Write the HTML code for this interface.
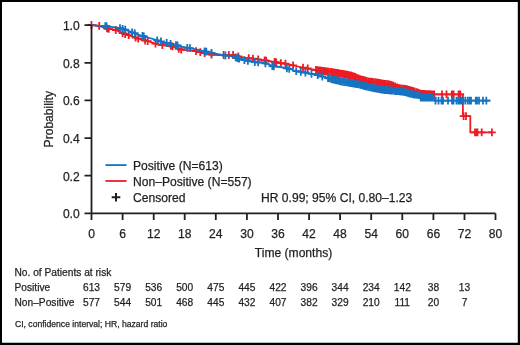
<!DOCTYPE html>
<html><head><meta charset="utf-8"><style>
html,body{margin:0;padding:0;background:#fff;}
#f{position:relative;width:520px;height:345px;overflow:hidden;background:#fff;}
#f svg{position:absolute;left:0;top:0;filter:blur(0.45px);}
text{font-family:"Liberation Sans",sans-serif;fill:#231f20;stroke:#231f20;stroke-width:0.25px;}
.t12{font-size:12.1px;}
.t10{font-size:10.2px;}
.t8{font-size:8.6px;}
</style></head><body><div id="f">
<svg width="520" height="345" viewBox="0 0 520 345">
<polyline points="91.5,25.0 99.2,25.8 106.2,28.3 115.4,29.9 124.6,33.8 132.7,36.6 140.4,39.4 148.1,41.2 155.8,43.8 159.6,45.0 171.5,45.8 179.2,49.1 183.1,49.8 194.6,51.0 198.5,51.6 202.7,52.8 210.4,54.6 218.1,55.0 233.5,55.0 237.7,56.4 245.4,57.9 253.1,58.6 260.8,59.8 268.5,61.0 272.7,61.7 280.4,63.0 288.1,64.1 295.8,66.0 303.5,67.8 317.0,70.2 330.0,71.8 340.0,73.4 351.5,75.6 360.0,79.0 367.7,81.3 375.4,82.2 383.0,83.7 390.8,84.5 398.5,88.1 406.0,89.1 413.8,91.2 421.5,93.9 435.0,94.4 462.9,94.4 462.9,116.2 470.3,116.2 470.3,132.3 491.9,132.3" fill="none" stroke="#ed1c24" stroke-width="1.8" stroke-linejoin="miter"/><path d="M91.5 21.1V28.9M87.6 25.0H95.4M99.2 21.9V29.7M95.3 25.8H103.1M107.0 24.5V32.3M103.1 28.4H110.9M108.8 24.9V32.7M104.9 28.8H112.7M115.7 26.1V33.9M111.8 30.0H119.6M122.6 29.1V36.9M118.7 33.0H126.5M125.2 30.1V37.9M121.3 34.0H129.1M128.7 31.3V39.1M124.8 35.2H132.6M135.6 33.8V41.6M131.7 37.7H139.5M138.2 34.7V42.5M134.3 38.6H142.1M145.1 36.6V44.4M141.2 40.5H149.0M147.7 37.2V45.0M143.8 41.1H151.6M155.5 39.8V47.6M151.6 43.7H159.4M162.4 41.3V49.1M158.5 45.2H166.3M170.9 41.9V49.7M167.0 45.8H174.8M172.6 42.4V50.2M168.7 46.3H176.5M178.7 45.0V52.8M174.8 48.9H182.6M181.2 45.6V53.4M177.3 49.5H185.1M196.0 47.3V55.1M192.1 51.2H199.9M200.3 48.2V56.0M196.4 52.1H204.2M204.6 49.3V57.1M200.7 53.2H208.5M211.5 50.8V58.6M207.6 54.7H215.4M223.6 51.1V58.9M219.7 55.0H227.5M228.8 51.1V58.9M224.9 55.0H232.7M233.1 51.1V58.9M229.2 55.0H237.0M238.3 52.6V60.4M234.4 56.5H242.2M248.7 54.3V62.1M244.8 58.2H252.6M253.0 54.7V62.5M249.1 58.6H256.9M258.2 55.5V63.3M254.3 59.4H262.1M264.6 56.5V64.3M260.7 60.4H268.5M266.2 56.7V64.5M262.3 60.6H270.1M274.6 58.1V65.9M270.7 62.0H278.5M276.2 58.4V66.2M272.3 62.3H280.1M280.8 59.2V67.0M276.9 63.1H284.7M285.4 59.8V67.6M281.5 63.7H289.3M293.1 61.4V69.2M289.2 65.3H297.0M303.0 63.8V71.6M299.1 67.7H306.9M307.7 64.6V72.4M303.8 68.5H311.6M316.0 66.1V73.9M312.1 70.0H319.9M317.1 66.3V74.1M313.2 70.2H321.0M318.6 66.5V74.3M314.7 70.4H322.5M319.8 66.6V74.4M315.9 70.5H323.7M321.3 66.8V74.6M317.4 70.7H325.2M322.9 67.0V74.8M319.0 70.9H326.8M323.8 67.1V74.9M319.9 71.0H327.7M324.6 67.2V75.0M320.7 71.1H328.5M326.4 67.5V75.3M322.5 71.4H330.3M327.5 67.6V75.4M323.6 71.5H331.4M328.6 67.7V75.5M324.7 71.6H332.5M330.6 68.0V75.8M326.7 71.9H334.5M332.0 68.2V76.0M328.1 72.1H335.9M333.7 68.5V76.3M329.8 72.4H337.6M335.1 68.7V76.5M331.2 72.6H339.0M336.7 69.0V76.8M332.8 72.9H340.6M337.7 69.1V76.9M333.8 73.0H341.6M339.2 69.4V77.2M335.3 73.3H343.1M341.0 69.7V77.5M337.1 73.6H344.9M342.5 70.0V77.8M338.6 73.9H346.4M344.1 70.3V78.1M340.2 74.2H348.0M345.7 70.6V78.4M341.8 74.5H349.6M346.6 70.8V78.6M342.7 74.7H350.5M348.3 71.1V78.9M344.4 75.0H352.2M349.8 71.4V79.2M345.9 75.3H353.7M351.0 71.6V79.4M347.1 75.5H354.9M351.9 71.9V79.7M348.0 75.8H355.8M353.7 72.6V80.4M349.8 76.5H357.6M355.1 73.1V80.9M351.2 77.0H359.0M356.7 73.8V81.6M352.8 77.7H360.6M358.5 74.5V82.3M354.6 78.4H362.4M360.2 75.2V83.0M356.3 79.1H364.1M362.0 75.7V83.5M358.1 79.6H365.9M363.3 76.1V83.9M359.4 80.0H367.2M365.1 76.6V84.4M361.2 80.5H369.0M366.4 77.0V84.8M362.5 80.9H370.3M368.3 77.5V85.3M364.4 81.4H372.2M370.1 77.7V85.5M366.2 81.6H374.0M371.1 77.8V85.6M367.2 81.7H375.0M372.1 77.9V85.7M368.2 81.8H376.0M373.1 78.0V85.8M369.2 81.9H377.0M375.1 78.3V86.1M371.2 82.2H379.0M376.4 78.5V86.3M372.5 82.4H380.3M377.9 78.8V86.6M374.0 82.7H381.8M379.1 79.0V86.8M375.2 82.9H383.0M380.5 79.3V87.1M376.6 83.2H384.4M381.8 79.6V87.4M377.9 83.5H385.7M383.0 79.8V87.6M379.1 83.7H386.9M384.5 80.0V87.8M380.6 83.9H388.4M386.0 80.1V87.9M382.1 84.0H389.9M387.9 80.3V88.1M384.0 84.2H391.8M389.5 80.5V88.3M385.6 84.4H393.4M391.4 80.9V88.7M387.5 84.8H395.3M393.2 81.7V89.5M389.3 85.6H397.1M395.1 82.6V90.4M391.2 86.5H399.0M396.7 83.4V91.2M392.8 87.3H400.6M397.7 83.8V91.6M393.8 87.7H401.6M399.5 84.3V92.1M395.6 88.2H403.4M401.4 84.6V92.4M397.5 88.5H405.3M403.3 84.8V92.6M399.4 88.7H407.2M404.8 85.0V92.8M400.9 88.9H408.7M406.4 85.3V93.1M402.5 89.2H410.3M407.5 85.6V93.4M403.6 89.5H411.4M409.3 86.1V93.9M405.4 90.0H413.2M410.7 86.5V94.3M406.8 90.4H414.6M411.9 86.8V94.6M408.0 90.7H415.8M412.8 87.0V94.8M408.9 90.9H416.7M414.6 87.6V95.4M410.7 91.5H418.5M416.6 88.3V96.1M412.7 92.2H420.5M417.5 88.6V96.4M413.6 92.5H421.4M419.2 89.2V97.0M415.3 93.1H423.1M420.5 89.7V97.5M416.6 93.6H424.4M421.5 90.0V97.8M417.6 93.9H425.4M422.7 90.0V97.8M418.8 93.9H426.6M424.4 90.1V97.9M420.5 94.0H428.3M426.2 90.2V98.0M422.3 94.1H430.1M427.1 90.2V98.0M423.2 94.1H431.0M428.6 90.3V98.1M424.7 94.2H432.5M429.5 90.3V98.1M425.6 94.2H433.4M431.2 90.4V98.2M427.3 94.3H435.1M432.4 90.4V98.2M428.5 94.3H436.3M434.2 90.5V98.3M430.3 94.4H438.1M442.0 90.5V98.3M438.1 94.4H445.9M446.5 90.5V98.3M442.6 94.4H450.4M451.8 90.5V98.3M447.9 94.4H455.7M453.6 90.5V98.3M449.7 94.4H457.5M458.6 90.5V98.3M454.7 94.4H462.5M460.3 90.5V98.3M456.4 94.4H464.2M463.6 112.3V120.1M459.7 116.2H467.5M466.0 112.3V120.1M462.1 116.2H469.9M475.0 128.4V136.2M471.1 132.3H478.9M476.3 128.4V136.2M472.4 132.3H480.2M477.5 128.4V136.2M473.6 132.3H481.4M481.7 128.4V136.2M477.8 132.3H485.6M491.9 128.4V136.2M488.0 132.3H495.8" stroke="#ed1c24" stroke-width="1.8" fill="none"/><polyline points="91.5,25.0 97.7,25.6 105.4,26.1 113.1,27.1 120.8,28.2 128.5,30.8 132.7,32.5 140.4,35.3 148.1,37.5 155.8,39.9 163.5,42.2 167.7,43.2 175.4,44.9 183.1,47.0 190.8,48.4 198.5,49.9 202.7,50.8 210.4,52.7 218.1,54.2 225.8,55.6 233.5,56.4 237.7,58.3 245.4,60.4 253.1,62.0 260.8,62.5 268.5,64.0 272.7,66.3 280.4,67.0 288.1,68.5 295.8,71.0 303.5,72.4 315.0,74.5 330.0,78.6 340.0,81.2 350.0,82.9 360.0,84.7 367.7,86.8 375.4,88.4 383.0,89.8 390.8,90.5 398.5,91.2 406.0,92.2 409.0,93.3 413.8,94.5 419.5,95.0 420.0,97.6 434.5,97.6 435.0,100.7 490.4,100.7" fill="none" stroke="#1573c1" stroke-width="1.8" stroke-linejoin="miter"/><path d="M105.3 22.2V30.0M101.4 26.1H109.2M106.5 22.3V30.1M102.6 26.2H110.4M120.0 24.2V32.0M116.1 28.1H123.9M122.6 24.9V32.7M118.7 28.8H126.5M125.2 25.8V33.6M121.3 29.7H129.1M132.1 28.4V36.2M128.2 32.3H136.0M134.7 29.3V37.1M130.8 33.2H138.6M142.5 32.0V39.8M138.6 35.9H146.4M143.8 32.4V40.2M139.9 36.3H147.7M157.2 36.4V44.2M153.3 40.3H161.1M161.0 37.6V45.4M157.1 41.5H164.9M166.7 39.1V46.9M162.8 43.0H170.6M170.5 39.9V47.7M166.6 43.8H174.4M176.0 41.2V49.0M172.1 45.1H179.9M177.5 41.6V49.4M173.6 45.5H181.4M187.3 43.9V51.7M183.4 47.8H191.2M189.9 44.3V52.1M186.0 48.2H193.8M204.6 47.4V55.2M200.7 51.3H208.5M206.3 47.8V55.6M202.4 51.7H210.2M211.5 49.0V56.8M207.6 52.9H215.4M225.4 51.6V59.4M221.5 55.5H229.3M235.7 53.5V61.3M231.8 57.4H239.6M237.5 54.3V62.1M233.6 58.2H241.4M239.2 54.8V62.6M235.3 58.7H243.1M244.4 56.2V64.0M240.5 60.1H248.3M247.9 57.0V64.8M244.0 60.9H251.8M254.8 58.2V66.0M250.9 62.1H258.7M258.2 58.4V66.2M254.3 62.3H262.1M265.4 59.5V67.3M261.5 63.4H269.3M272.3 62.2V70.0M268.4 66.1H276.2M273.8 62.5V70.3M269.9 66.4H277.7M286.9 64.4V72.2M283.0 68.3H290.8M289.2 65.0V72.8M285.3 68.9H293.1M296.2 67.2V75.0M292.3 71.1H300.1M300.8 68.0V75.8M296.9 71.9H304.7M305.4 68.8V76.6M301.5 72.7H309.3M311.5 70.0V77.8M307.6 73.9H315.4M317.7 71.3V79.1M313.8 75.2H321.6M322.3 72.6V80.4M318.4 76.5H326.2M328.0 74.2V82.0M324.1 78.1H331.9M329.4 74.5V82.3M325.5 78.4H333.3M331.4 75.1V82.9M327.5 79.0H335.3M332.6 75.4V83.2M328.7 79.3H336.5M333.5 75.6V83.4M329.6 79.5H337.4M335.0 76.0V83.8M331.1 79.9H338.9M335.9 76.2V84.0M332.0 80.1H339.8M336.9 76.5V84.3M333.0 80.4H340.8M338.2 76.8V84.6M334.3 80.7H342.1M339.7 77.2V85.0M335.8 81.1H343.6M340.8 77.4V85.2M336.9 81.3H344.7M341.6 77.6V85.4M337.7 81.5H345.5M343.5 77.9V85.7M339.6 81.8H347.4M344.7 78.1V85.9M340.8 82.0H348.6M346.6 78.4V86.2M342.7 82.3H350.5M348.4 78.7V86.5M344.5 82.6H352.3M349.7 78.9V86.7M345.8 82.8H353.6M351.0 79.2V87.0M347.1 83.1H354.9M352.5 79.4V87.2M348.6 83.3H356.4M354.0 79.7V87.5M350.1 83.6H357.9M355.5 80.0V87.8M351.6 83.9H359.4M357.0 80.3V88.1M353.1 84.2H360.9M358.5 80.5V88.3M354.6 84.4H362.4M360.4 80.9V88.7M356.5 84.8H364.3M361.8 81.3V89.1M357.9 85.2H365.7M363.1 81.7V89.5M359.2 85.6H367.0M364.8 82.1V89.9M360.9 86.0H368.7M365.9 82.4V90.2M362.0 86.3H369.8M367.1 82.7V90.5M363.2 86.6H371.0M369.0 83.2V91.0M365.1 87.1H372.9M370.4 83.5V91.3M366.5 87.4H374.3M371.9 83.8V91.6M368.0 87.7H375.8M372.7 83.9V91.7M368.8 87.8H376.6M374.0 84.2V92.0M370.1 88.1H377.9M375.5 84.5V92.3M371.6 88.4H379.4M376.4 84.7V92.5M372.5 88.6H380.3M377.9 85.0V92.8M374.0 88.9H381.8M379.5 85.3V93.1M375.6 89.2H383.4M380.4 85.4V93.2M376.5 89.3H384.3M381.9 85.7V93.5M378.0 89.6H385.8M383.3 85.9V93.7M379.4 89.8H387.2M384.9 86.1V93.9M381.0 90.0H388.8M386.1 86.2V94.0M382.2 90.1H390.0M387.8 86.3V94.1M383.9 90.2H391.7M389.4 86.5V94.3M385.5 90.4H393.3M390.3 86.6V94.4M386.4 90.5H394.2M391.2 86.6V94.4M387.3 90.5H395.1M392.8 86.8V94.6M388.9 90.7H396.7M394.7 87.0V94.8M390.8 90.9H398.6M395.8 87.1V94.9M391.9 91.0H399.7M397.2 87.2V95.0M393.3 91.1H401.1M398.7 87.3V95.1M394.8 91.2H402.6M399.9 87.5V95.3M396.0 91.4H403.8M401.1 87.7V95.5M397.2 91.6H405.0M402.3 87.8V95.6M398.4 91.7H406.2M403.6 88.0V95.8M399.7 91.9H407.5M405.1 88.2V96.0M401.2 92.1H409.0M406.3 88.4V96.2M402.4 92.3H410.2M407.5 88.9V96.7M403.6 92.8H411.4M409.2 89.5V97.3M405.3 93.4H413.1M410.1 89.7V97.5M406.2 93.6H414.0M411.6 90.0V97.8M407.7 93.9H415.5M413.2 90.5V98.3M409.3 94.4H417.1M414.4 90.7V98.5M410.5 94.6H418.3M415.5 90.8V98.6M411.6 94.7H419.4M417.3 90.9V98.7M413.4 94.8H421.2M418.4 91.0V98.8M414.5 94.9H422.3M419.4 91.1V98.9M415.5 95.0H423.3M420.7 93.7V101.5M416.8 97.6H424.6M422.4 93.7V101.5M418.5 97.6H426.3M423.3 93.7V101.5M419.4 97.6H427.2M424.5 93.7V101.5M420.6 97.6H428.4M425.7 93.7V101.5M421.8 97.6H429.6M427.5 93.7V101.5M423.6 97.6H431.4M428.8 93.7V101.5M424.9 97.6H432.7M430.6 93.7V101.5M426.7 97.6H434.5M431.7 93.7V101.5M427.8 97.6H435.6M432.9 93.7V101.5M429.0 97.6H436.8M435.5 96.8V104.6M431.6 100.7H439.4M438.5 96.8V104.6M434.6 100.7H442.4M441.5 96.8V104.6M437.6 100.7H445.4M443.0 96.8V104.6M439.1 100.7H446.9M448.0 96.8V104.6M444.1 100.7H451.9M452.0 96.8V104.6M448.1 100.7H455.9M453.5 96.8V104.6M449.6 100.7H457.4M456.5 96.8V104.6M452.6 100.7H460.4M458.5 96.8V104.6M454.6 100.7H462.4M460.0 96.8V104.6M456.1 100.7H463.9M461.5 96.8V104.6M457.6 100.7H465.4M463.0 96.8V104.6M459.1 100.7H466.9M465.3 96.8V104.6M461.4 100.7H469.2M467.8 96.8V104.6M463.9 100.7H471.7M469.8 96.8V104.6M465.9 100.7H473.7M471.0 96.8V104.6M467.1 100.7H474.9M475.8 96.8V104.6M471.9 100.7H479.7M477.0 96.8V104.6M473.1 100.7H480.9M479.0 96.8V104.6M475.1 100.7H482.9M483.0 96.8V104.6M479.1 100.7H486.9M486.3 96.8V104.6M482.4 100.7H490.2" stroke="#1573c1" stroke-width="1.8" fill="none"/>
<path d="M91.5 25.1V219.9M84.5 213.4H495.5" stroke="#231f20" stroke-width="1.8" fill="none"/><path d="M122.6 213.4v6.5M153.7 213.4v6.5M184.7 213.4v6.5M215.8 213.4v6.5M246.9 213.4v6.5M278.0 213.4v6.5M309.1 213.4v6.5M340.1 213.4v6.5M371.2 213.4v6.5M402.3 213.4v6.5M433.4 213.4v6.5M464.5 213.4v6.5M495.5 213.4v6.5M91.5 175.7h-7M91.5 138.1h-7M91.5 100.4h-7M91.5 62.8h-7M91.5 25.1h-7" stroke="#231f20" stroke-width="1.8" fill="none"/><text x="91.5" y="237.6" text-anchor="middle" class="t12">0</text><text x="122.6" y="237.6" text-anchor="middle" class="t12">6</text><text x="153.7" y="237.6" text-anchor="middle" class="t12">12</text><text x="184.7" y="237.6" text-anchor="middle" class="t12">18</text><text x="215.8" y="237.6" text-anchor="middle" class="t12">24</text><text x="246.9" y="237.6" text-anchor="middle" class="t12">30</text><text x="278.0" y="237.6" text-anchor="middle" class="t12">36</text><text x="309.1" y="237.6" text-anchor="middle" class="t12">42</text><text x="340.1" y="237.6" text-anchor="middle" class="t12">48</text><text x="371.2" y="237.6" text-anchor="middle" class="t12">54</text><text x="402.3" y="237.6" text-anchor="middle" class="t12">60</text><text x="433.4" y="237.6" text-anchor="middle" class="t12">66</text><text x="464.5" y="237.6" text-anchor="middle" class="t12">72</text><text x="495.5" y="237.6" text-anchor="middle" class="t12">80</text><text x="79.7" y="218.4" text-anchor="end" class="t12">0.0</text><text x="79.7" y="180.7" text-anchor="end" class="t12">0.2</text><text x="79.7" y="143.1" text-anchor="end" class="t12">0.4</text><text x="79.7" y="105.4" text-anchor="end" class="t12">0.6</text><text x="79.7" y="67.8" text-anchor="end" class="t12">0.8</text><text x="79.7" y="30.1" text-anchor="end" class="t12">1.0</text><text x="293.5" y="257" text-anchor="middle" class="t12">Time (months)</text><text transform="translate(53.3 119.2) rotate(-90)" text-anchor="middle" class="t12">Probability</text>
<path d="M105.4 165.1H126.5" stroke="#1573c1" stroke-width="1.8"/><path d="M105.4 181H126.5" stroke="#ed1c24" stroke-width="1.8"/><path d="M116 193V201.6M111.7 197.3H120.3" stroke="#231f20" stroke-width="2"/><text x="133" y="169.9" class="t12">Positive (N=613)</text><text x="133" y="185.9" class="t12">Non–Positive (N=557)</text><text x="133" y="202" class="t12">Censored</text><text x="261" y="202" class="t12">HR 0.99; 95% CI, 0.80–1.23</text>
<text x="14.5" y="275.5" class="t10">No. of Patients at risk</text><text x="14.5" y="290.9" class="t10">Positive</text><text x="14.5" y="305.8" class="t10">Non–Positive</text><text x="91.5" y="290.9" text-anchor="middle" class="t10">613</text><text x="91.5" y="305.8" text-anchor="middle" class="t10">577</text><text x="122.6" y="290.9" text-anchor="middle" class="t10">579</text><text x="122.6" y="305.8" text-anchor="middle" class="t10">544</text><text x="153.7" y="290.9" text-anchor="middle" class="t10">536</text><text x="153.7" y="305.8" text-anchor="middle" class="t10">501</text><text x="184.7" y="290.9" text-anchor="middle" class="t10">500</text><text x="184.7" y="305.8" text-anchor="middle" class="t10">468</text><text x="215.8" y="290.9" text-anchor="middle" class="t10">475</text><text x="215.8" y="305.8" text-anchor="middle" class="t10">445</text><text x="246.9" y="290.9" text-anchor="middle" class="t10">445</text><text x="246.9" y="305.8" text-anchor="middle" class="t10">432</text><text x="278.0" y="290.9" text-anchor="middle" class="t10">422</text><text x="278.0" y="305.8" text-anchor="middle" class="t10">407</text><text x="309.1" y="290.9" text-anchor="middle" class="t10">396</text><text x="309.1" y="305.8" text-anchor="middle" class="t10">382</text><text x="340.1" y="290.9" text-anchor="middle" class="t10">344</text><text x="340.1" y="305.8" text-anchor="middle" class="t10">329</text><text x="371.2" y="290.9" text-anchor="middle" class="t10">234</text><text x="371.2" y="305.8" text-anchor="middle" class="t10">210</text><text x="402.3" y="290.9" text-anchor="middle" class="t10">142</text><text x="402.3" y="305.8" text-anchor="middle" class="t10">111</text><text x="433.4" y="290.9" text-anchor="middle" class="t10">38</text><text x="433.4" y="305.8" text-anchor="middle" class="t10">20</text><text x="464.5" y="290.9" text-anchor="middle" class="t10">13</text><text x="464.5" y="305.8" text-anchor="middle" class="t10">7</text><text x="15" y="326.5" class="t8">CI, confidence interval; HR, hazard ratio</text>
</svg>
<svg width="520" height="345" viewBox="0 0 520 345" style="filter:none"><path d="M0 0H520V345H0ZM2 2V342.7H517.8V2Z" fill="#000" fill-rule="evenodd"/></svg>
</div></body></html>
